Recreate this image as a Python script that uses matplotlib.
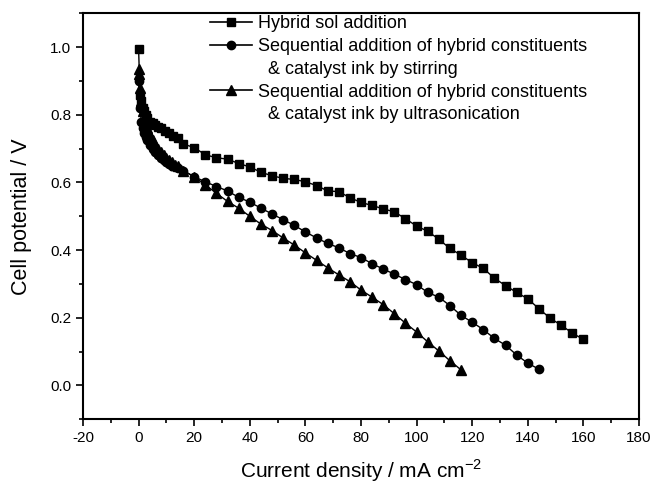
import matplotlib
matplotlib.use("Agg")
import matplotlib.pyplot as plt
from matplotlib.ticker import MultipleLocator, FormatStrFormatter
from matplotlib.lines import Line2D

plt.rcParams['font.family'] = ['Liberation Sans', 'DejaVu Sans']
plt.rcParams['axes.unicode_minus'] = False
plt.rcParams['mathtext.fontset'] = 'custom'
plt.rcParams['mathtext.rm'] = 'Liberation Sans'

# Hybrid sol addition (squares)
x_sol = [0, 0.5, 1.0, 1.5, 2.0, 2.5, 3.0, 4.0, 5.0, 6.0, 7.0, 8.0, 9.5, 11, 12.5, 14, 16,
         20, 24, 28, 32, 36, 40, 44, 48, 52, 56, 60, 64, 68, 72, 76, 80, 84, 88, 92, 96,
         100, 104, 108, 112, 116, 120, 124, 128, 132, 136, 140, 144, 148, 152, 156, 160]
y_sol = [0.995, 0.86, 0.84, 0.82, 0.81, 0.80, 0.79, 0.78, 0.775, 0.77, 0.765, 0.76, 0.752,
         0.745, 0.738, 0.732, 0.714,
         0.703, 0.682, 0.673, 0.669, 0.656, 0.646, 0.630, 0.620, 0.612, 0.609, 0.602, 0.591,
         0.575, 0.573, 0.555, 0.541, 0.532, 0.522, 0.513, 0.493,
         0.471, 0.456, 0.432, 0.405, 0.385, 0.363, 0.346, 0.317, 0.295, 0.275, 0.256, 0.227,
         0.199, 0.178, 0.155, 0.136]

# Sequential addition, stirring (circles)
x_stir = [0, 0.5, 1.0, 1.5, 2.0, 2.5, 3.0, 4.0, 5.0, 6.0, 7.0, 8.0, 9.0, 10, 11, 12, 14, 16,
          20, 24, 28, 32, 36, 40, 44, 48, 52, 56, 60, 64, 68, 72, 76, 80, 84, 88, 92, 96,
          100, 104, 108, 112, 116, 120, 124, 128, 132, 136, 140, 144]
y_stir = [0.90, 0.82, 0.78, 0.76, 0.745, 0.735, 0.725, 0.71, 0.70, 0.69, 0.68, 0.672, 0.665,
          0.66, 0.655, 0.65, 0.643, 0.635,
          0.617, 0.602, 0.588, 0.575, 0.556, 0.542, 0.524, 0.507, 0.490, 0.473, 0.454, 0.436,
          0.420, 0.407, 0.390, 0.378, 0.360, 0.344, 0.329, 0.313,
          0.298, 0.275, 0.261, 0.236, 0.207, 0.187, 0.165, 0.139, 0.119, 0.090, 0.066, 0.048]

# Sequential addition, ultrasonication (triangles)
x_us = [0, 0.3, 0.6, 1.0, 1.5, 2.0, 2.5, 3.0, 4.0, 5.0, 6.0, 7.0, 8.0, 9.0, 10, 11, 12, 13, 14, 16,
        20, 24, 28, 32, 36, 40, 44, 48, 52, 56, 60, 64, 68, 72, 76, 80, 84, 88, 92, 96,
        100, 104, 108, 112, 116]
y_us = [0.935, 0.92, 0.88, 0.84, 0.81, 0.79, 0.775, 0.76, 0.74, 0.725, 0.71, 0.70, 0.69, 0.68,
        0.672, 0.665, 0.66, 0.653, 0.648, 0.635,
        0.617, 0.593, 0.568, 0.544, 0.524, 0.500, 0.477, 0.458, 0.436, 0.415, 0.392, 0.370,
        0.348, 0.327, 0.307, 0.282, 0.261, 0.239, 0.212, 0.184,
        0.158, 0.129, 0.102, 0.073, 0.046]

labels = ["Hybrid sol addition",
          "Sequential addition of hybrid constituents",
          "  & catalyst ink by stirring",
          "Sequential addition of hybrid constituents",
          "  & catalyst ink by ultrasonication"]

fig = plt.figure(figsize=(6.53, 4.84), dpi=100)
ax = fig.add_axes([83/653, 1 - 419.3/484, (639-83)/653, (419.3-13.3)/484])

ms = 6
ax.plot(x_sol, y_sol, color='black', lw=1, marker='s', ms=ms)
ax.plot(x_stir, y_stir, color='black', lw=1, marker='o', ms=ms)
ax.plot(x_us, y_us, color='black', lw=1, marker='^', ms=ms + 0.5)

ax.set_xlim(-20, 180)
ax.set_ylim(-0.1, 1.1)
ax.xaxis.set_major_locator(MultipleLocator(20))
ax.xaxis.set_minor_locator(MultipleLocator(10))
ax.yaxis.set_major_locator(MultipleLocator(0.2))
ax.yaxis.set_minor_locator(MultipleLocator(0.1))
ax.yaxis.set_major_formatter(FormatStrFormatter('%.1f'))
ax.tick_params(which='both', direction='out', width=1.2, labelsize=11)
ax.tick_params(which='major', length=5)
ax.tick_params(which='minor', length=3)
for s in ax.spines.values():
    s.set_linewidth(1.5)

ax.set_xlabel(r"Current density / mA cm$^{\mathregular{-2}}$", fontsize=15, labelpad=9)
ax.set_ylabel("Cell potential / V", fontsize=15.5, labelpad=13)

handles = [Line2D([], [], color='black', lw=1.2, marker='s', ms=ms),
           Line2D([], [], color='black', lw=1.2, marker='o', ms=ms),
           Line2D([], [], color='none'),
           Line2D([], [], color='black', lw=1.2, marker='^', ms=ms + 0.5),
           Line2D([], [], color='none')]
ax.legend(handles, labels, loc='upper left', bbox_to_anchor=(0.228, 0.995),
          frameon=False, fontsize=13, handlelength=2.35, handletextpad=0.33,
          labelspacing=0.32, borderaxespad=0.0, borderpad=0.0)

fig.savefig("out.png", dpi=100)
